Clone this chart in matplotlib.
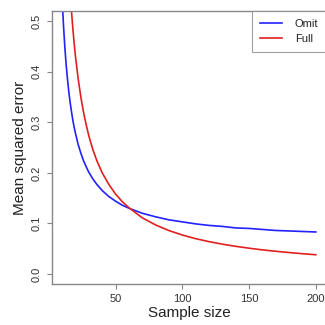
import matplotlib
matplotlib.use("Agg")
import matplotlib.pyplot as plt

sample_size = [10, 11, 12, 13, 14, 15, 16, 17, 18, 19, 20, 22, 24, 26, 28, 30, 33, 36, 40, 45, 50,
               55, 60, 70, 80, 90, 100, 110, 120, 130, 140, 150, 160, 170, 180, 190, 200]
mse_omit = [0.545, 0.492, 0.449, 0.414, 0.385, 0.360, 0.339, 0.321, 0.304, 0.290, 0.278, 0.256,
            0.239, 0.224, 0.212, 0.201, 0.188, 0.177, 0.165, 0.153, 0.144, 0.136, 0.130, 0.120,
            0.113, 0.107, 0.103, 0.099, 0.096, 0.094, 0.091, 0.090, 0.088, 0.086, 0.085, 0.084,
            0.083]
mse_full = [1.009, 0.890, 0.795, 0.719, 0.656, 0.603, 0.558, 0.520, 0.486, 0.456, 0.430, 0.386,
            0.350, 0.320, 0.295, 0.273, 0.246, 0.224, 0.200, 0.177, 0.158, 0.143, 0.131, 0.111,
            0.0969, 0.0858, 0.0770, 0.0698, 0.0639, 0.0589, 0.0546, 0.0509, 0.0476, 0.0448,
            0.0423, 0.0400, 0.0380]
x_ticks = [50, 100, 150, 200]
y_ticks = [0.0, 0.1, 0.2, 0.3, 0.4, 0.5]
series_names = ["Omit", "Full"]

plt.rcParams['font.family'] = ['Liberation Sans', 'DejaVu Sans']

fig = plt.figure(figsize=(3.25, 3.25), dpi=100)
ax = fig.add_axes([0.16, 0.126, 0.843, 0.840])

frame_col = '#888888'
ax.plot(sample_size, mse_omit, color='#2222ff', lw=1.2, label=series_names[0])
ax.plot(sample_size, mse_full, color='#e02020', lw=1.2, label=series_names[1])

xr = max(sample_size) - min(sample_size)
ax.set_xlim(min(sample_size) - 0.04 * xr, max(sample_size) + 0.04 * xr)
ax.set_ylim(-0.02, 0.52)
ax.set_xticks(x_ticks)
ax.set_yticks(y_ticks)
ax.set_xticklabels([str(v) for v in x_ticks])
ax.set_yticklabels([f"{v:.1f}" for v in y_ticks], rotation=90, va='center')

for s in ax.spines.values():
    s.set_color(frame_col)
    s.set_linewidth(1.0)
ax.tick_params(direction='out', length=3.5, width=0.8, color=frame_col,
               labelsize=8, labelcolor='#333333', pad=4)

ax.set_xlabel("Sample size", fontsize=11, color='#222222', labelpad=1)
ax.set_ylabel("Mean squared error", fontsize=11, color='#222222', labelpad=3)

leg = ax.legend(loc='upper right', borderaxespad=0, fontsize=8, fancybox=False,
                handlelength=2.0, handletextpad=1.1, borderpad=0.7, labelspacing=0.5,
                frameon=True)
leg.get_frame().set_edgecolor(frame_col)
leg.get_frame().set_linewidth(0.8)
for t in leg.get_texts():
    t.set_color('#222222')

fig.savefig("out.png", dpi=100)
